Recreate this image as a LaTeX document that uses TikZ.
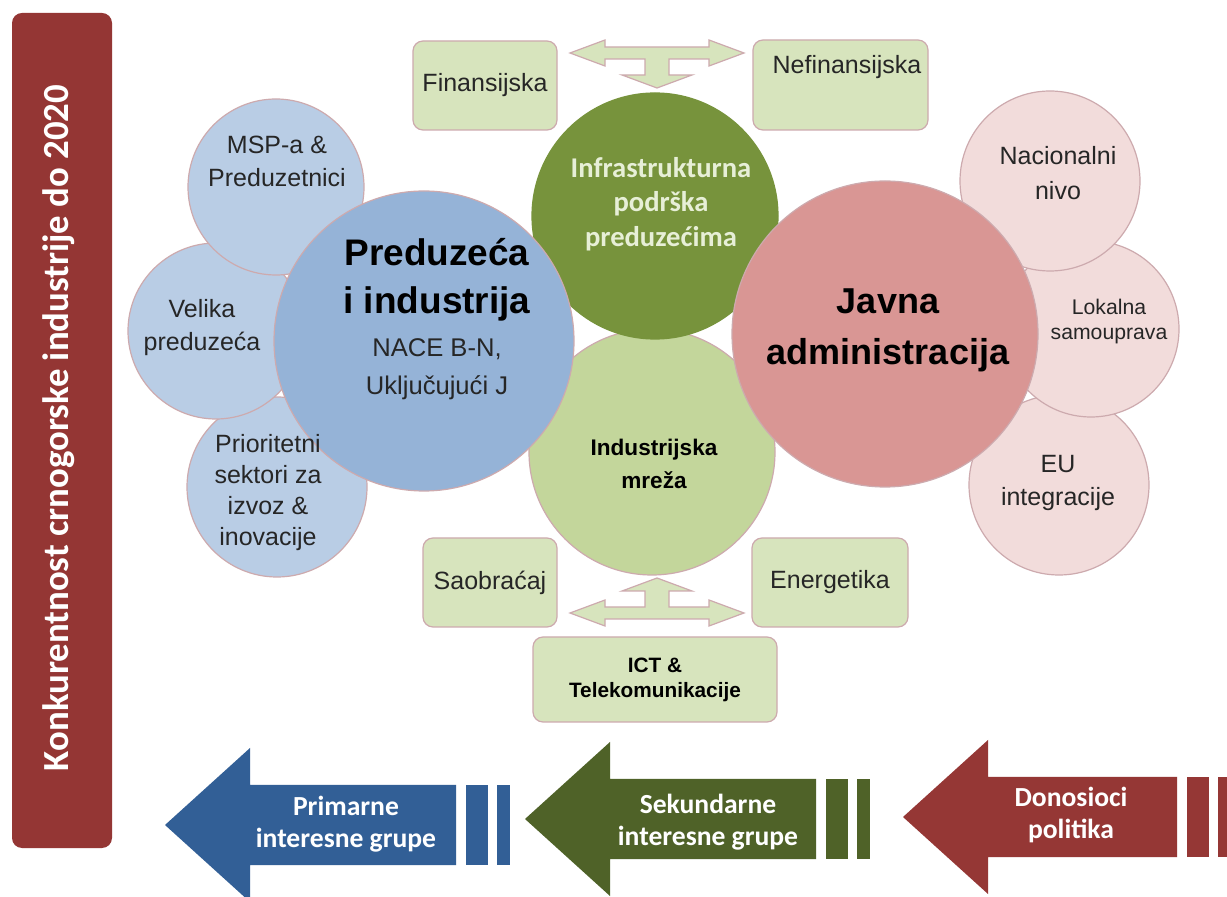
\documentclass[tikz,border=0pt]{standalone}
\usepackage{fontspec}
\setmainfont{Liberation Sans}
\newfontfamily\calib{Carlito}
\usetikzlibrary{positioning}
\definecolor{barred}{HTML}{943634}
\definecolor{blueA}{HTML}{95B3D7}
\definecolor{blueB}{HTML}{B9CDE5}
\definecolor{greenA}{HTML}{77933C}
\definecolor{greenB}{HTML}{C3D69B}
\definecolor{greenC}{HTML}{D7E4BD}
\definecolor{pinkA}{HTML}{D99694}
\definecolor{pinkB}{HTML}{F2DCDB}
\definecolor{rim}{HTML}{CDAAAE}
\definecolor{arrblue}{HTML}{325F96}
\definecolor{arrgreen}{HTML}{4F6228}
\definecolor{arrred}{HTML}{953735}
\tikzstyle{big}=[circle, inner sep = 0, draw = rim, line width = .6pt]
\tikzstyle{small}=[circle, inner sep = 0, draw = rim, line width = .6pt]
\tikzstyle{box}=[rectangle, rounded corners = 5pt, fill = greenC, draw = rim, line width = .6pt, inner sep = 0]
\tikzstyle{fork}=[fill = greenC, draw = rim, line width = .6pt, line join = miter]
\tikzstyle{lbl}=[align = center, text = black!85, font = \fontsize{12.5}{16.5}\selectfont]
\tikzstyle{lblB}=[align = center, font = \fontsize{18.5}{24}\selectfont\bfseries]
\tikzstyle{lblW}=[align = center, text = white, font = \calib\fontsize{13.8}{16}\selectfont\bfseries]
% left-right arrow with a stem to the circle
\newcommand{\forkarrow}[2]{%
\begin{scope}[shift = {#1}, yscale = #2]
\draw [fork] (-87,0) -- (-52,-13) -- (-52,-6) -- (52,-6) -- (52,-13) -- (87,0) -- (52,13) -- (52,6) -- (12,6) -- (12,22) -- (35,22) -- (0,35) -- (-35,22) -- (-12,22) -- (-12,6) -- (-52,6) -- (-52,13) -- cycle;
\end{scope}}
% big block arrow with two bars behind it
\newcommand{\stakearrow}[4]{%
\fill [#1] (#2,#3) -- ({#2+85},{#3-77}) -- ({#2+85},{#3-40}) -- (#4,{#3-40}) -- (#4,{#3+40}) -- ({#2+85},{#3+40}) -- ({#2+85},{#3+77}) -- cycle;
\fill [#1] ({#4+10},{#3-40}) rectangle ({#4+32},{#3+40});
\fill [#1] ({#4+41},{#3-40}) rectangle ({#4+54},{#3+40});}

\begin{document}
\begin{tikzpicture}[x = .5pt, y = -.5pt]
\useasboundingbox (0,0) rectangle (1227,897);
\fill [white] (0,0) rectangle (1227,897);
\node (bar) at (62,430.5) [rectangle, rounded corners = 5pt, fill = barred, minimum width = 50pt, minimum height = 417.5pt] {};
\node (bartxt) at (59,428) [rotate = 90, text = white, font = \calib\fontsize{18.4}{20}\selectfont\bfseries] {Konkurentnost crnogorske industrije do 2020};
%%%%%%%%%%%%%%%%%%%%%%%
\node (mreza) at (652,452) [big, fill = greenB, minimum size = 123pt] {};
\node (infra) at (655,216) [big, fill = greenA, draw = greenA, minimum size = 123pt] {};
\node (fin) at (485,85.5) [box, minimum width = 72pt, minimum height = 44.5pt, lbl] {Finansijska};
\node (nefin) at (840.5,85) [box, minimum width = 87.5pt, minimum height = 45pt] {};
\node (nefintxt) at (847,67) [lbl] {Nefinansijska};
\node (saob) at (490,582.5) [box, minimum width = 67pt, minimum height = 44.5pt, lbl] {Saobraćaj};
\node (ener) at (830,582.5) [box, minimum width = 78pt, minimum height = 44.5pt, lbl] {Energetika};
\node (ict) at (655,679.5) [box, minimum width = 122pt, minimum height = 42.5pt, align = center, font = \fontsize{10.4}{12.5}\selectfont\bfseries] {ICT \&\\Telekomunikacije};
\forkarrow{(657,53)}{1}
\forkarrow{(657,613)}{-1}
%%%%%%%%%%%%%%%%%%%%%%%
\node (prior) at (277,487) [small, fill = blueB, minimum size = 90pt] {};
\node (velika) at (216,331) [small, fill = blueB, minimum size = 88pt] {};
\node (msp) at (276,187) [small, fill = blueB, minimum size = 88pt] {};
\node (eu) at (1059,485) [small, fill = pinkB, minimum size = 90pt] {};
\node (lok) at (1091,329) [small, fill = pinkB, minimum size = 88pt] {};
\node (nac) at (1050,181) [small, fill = pinkB, minimum size = 90pt] {};
\node (pred) at (424,341) [big, fill = blueA, minimum size = 150pt] {};
\node (javna) at (885,334) [big, fill = pinkA, minimum size = 153pt] {};
%%%%%%%%%%%%%%%%%%%%%%%
\node (msptxt) at (277,161) [lbl] {MSP-a \&\\Preduzetnici};
\node (velikatxt) at (202,328) [lbl] {Velika\\preduzeća};
\node (priortxt) at (268,493) [lbl, font = \fontsize{12.5}{15.5}\selectfont] {Prioritetni\\sektori za\\izvoz \&\\inovacije};
\node (predtxt) at (437,280) [lblB] {Preduzeća\\i industrija};
\node (predsub) at (437,369) [lbl, font = \fontsize{12.8}{19}\selectfont] {NACE B-N,\\Uključujući J};
\node (infratxt) at (661,204) [align = center, text = greenC!60!white, font = \calib\fontsize{14.3}{17.3}\selectfont\bfseries] {Infrastrukturna\\podrška\\preduzećima};
\node (mrezatxt) at (654,464) [align = center, font = \fontsize{11.3}{16.5}\selectfont\bfseries] {Industrijska\\mreža};
\node (javnatxt) at (888,330) [lblB, font = \fontsize{18}{25.5}\selectfont\bfseries] {Javna\\administracija};
\node (nactxt) at (1058,173) [lbl, font = \fontsize{12.5}{17.5}\selectfont] {Nacionalni\\nivo};
\node (loktxt) at (1109,322) [lbl, font = \fontsize{10.6}{12.5}\selectfont] {Lokalna\\samouprava};
\node (eutxt) at (1058,483) [lbl] {EU\\integracije};
%%%%%%%%%%%%%%%%%%%%%%%
\stakearrow{arrblue}{165}{825}{456}
\stakearrow{arrgreen}{525}{819}{816}
\stakearrow{arrred}{903}{817}{1177}
\node (prim) at (346,824) [lblW] {Primarne\\interesne grupe};
\node (sek) at (708,822) [lblW] {Sekundarne\\interesne grupe};
\node (don) at (1071,815) [lblW] {Donosioci\\politika};
\end{tikzpicture}
\end{document}
